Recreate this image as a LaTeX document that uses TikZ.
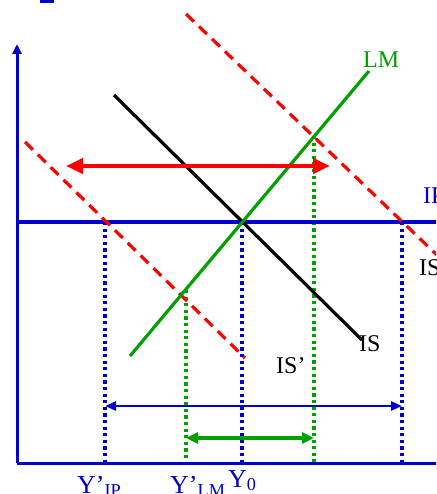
\documentclass[tikz,border=0pt]{standalone}
\usepackage{fontspec}
\setmainfont{Liberation Serif}
\usetikzlibrary{arrows.meta}
\definecolor{myblue}{RGB}{0,0,204}
\definecolor{mygreen}{RGB}{0,160,0}
\definecolor{myred}{RGB}{255,0,0}
\begin{document}
\begin{tikzpicture}[x=1pt,y=-1pt,
  axisline/.style={myblue,line width=3pt},
  ipline/.style={myblue,line width=3.2pt},
  lmline/.style={mygreen,line width=3.2pt},
  isline/.style={black,line width=3.2pt},
  shiftline/.style={myred,line width=3.2pt,dash pattern=on 11pt off 7pt},
  bdot/.style={myblue,line width=3.2pt,dash pattern=on 3.2pt off 3.4pt},
  gdot/.style={mygreen,line width=3.2pt,dash pattern=on 3.2pt off 3.4pt},
  lbl/.style={font=\fontsize{24}{28}\selectfont,inner sep=0pt,anchor=base west},
  ylbl/.style={font=\fontsize{26}{30}\selectfont,inner sep=0pt,anchor=base west,text=myblue},
]
\useasboundingbox (0,0) rectangle (436,494);
\clip (0,0) rectangle (436,494);
\fill[white] (0,0) rectangle (436,494);
% cut-off mark at top
\fill[myblue] (40,0) rectangle (54,2.6);
% coordinates
\coordinate (O) at (17,463);
\coordinate (Ytop) at (17,44);
\coordinate (Xend) at (440,463);
\coordinate (IPa) at (17,222);
\coordinate (IPb) at (440,222);
\coordinate (LMa) at (130,356);
\coordinate (LMb) at (369,71);
\coordinate (ISa) at (114,95);
\coordinate (ISb) at (362,340);
\coordinate (ISpa) at (25,142);
\coordinate (ISpb) at (245,358);
\coordinate (ISppa) at (186,14);
\coordinate (ISppb) at (440,258);
% dotted verticals
\coordinate (d1t) at (105,222); \coordinate (d1b) at (105,463);
\coordinate (d2t) at (186,290); \coordinate (d2b) at (186,463);
\coordinate (d3t) at (242,222); \coordinate (d3b) at (242,463);
\coordinate (d4t) at (314,136); \coordinate (d4b) at (314,463);
\coordinate (d5t) at (402,222); \coordinate (d5b) at (402,463);
\draw[bdot] (d1t) -- (d1b);
\draw[gdot] (d2t) -- (d2b);
\draw[bdot] (d3t) -- (d3b);
\draw[gdot] (d4t) -- (d4b);
\draw[bdot] (d5t) -- (d5b);
% axes
\draw[axisline,-{Triangle[length=10pt,width=9pt]}] (O) -- (Ytop);
\draw[axisline] (O) -- (Xend);
% IP
\draw[ipline] (IPa) -- (IPb);
% IS shifted
\draw[shiftline] (ISpa) -- (ISpb);
\draw[shiftline] (ISppa) -- (ISppb);
% IS and LM
\draw[isline] (ISa) -- (ISb);
\draw[lmline] (LMa) -- (LMb);
% arrows
\coordinate (ra) at (66,166); \coordinate (rb) at (330,166);
\draw[myred,line width=4.4pt,{Triangle[length=17pt,width=15pt]}-{Triangle[length=17pt,width=15pt]}] (ra) -- (rb);
\coordinate (ba) at (105,406); \coordinate (bb) at (402,406);
\draw[myblue,line width=2.6pt,{Triangle[length=11pt,width=9pt]}-{Triangle[length=11pt,width=9pt]}] (ba) -- (bb);
\coordinate (ga) at (186,438); \coordinate (gb) at (314,438);
\draw[mygreen,line width=3.4pt,{Triangle[length=12pt,width=11pt]}-{Triangle[length=12pt,width=11pt]}] (ga) -- (gb);
% labels
\node[lbl,text=mygreen] (tLM) at (363,68) {LM};
\node[lbl] (tIS) at (359,351) {IS};
\node[lbl] (tISp) at (276,373) {IS’};
\node[lbl] (tISpp) at (419,275) {IS’’};
\node[lbl,text=myblue] (tIP) at (423,203) {IP};
\node[ylbl] (tY1) at (77,493) {Y’\textsubscript{IP}};
\node[ylbl] (tY2) at (170,493) {Y’\textsubscript{LM}};
\node[ylbl] (tY0) at (228,487) {Y\textsubscript{0}};
\end{tikzpicture}
\end{document}
